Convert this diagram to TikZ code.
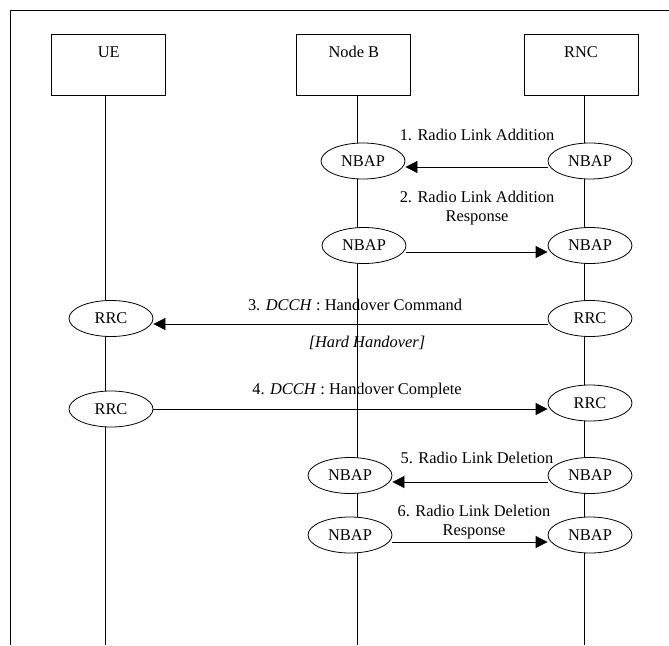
\documentclass[tikz,border=0pt]{standalone}
\usepackage{fontspec}
\setmainfont{Liberation Serif}
\usepackage{tikz}
\usetikzlibrary{shapes.geometric,arrows.meta}
\tikzstyle{entity}=[rectangle,draw=black,line width=0.8pt,inner sep=0pt,
                    minimum width=114pt,text height=23.5pt,text depth=37.5pt]
\tikzstyle{proto}=[ellipse,draw=black,fill=white,line width=0.8pt,
                   inner sep=0pt,minimum width=84pt,minimum height=36pt]
\tikzstyle{msg}=[line width=0.8pt,-{Triangle[length=12pt,width=12pt]}]
\tikzstyle{msglabel}=[anchor=base,align=center,inner sep=0pt]

\begin{document}
\begin{tikzpicture}[x=1pt,y=-1pt,line width=0.8pt,
    every node/.style={font=\fontsize{16.4}{19}\selectfont}]
    \useasboundingbox (0,0) rectangle (669,645);
    % frame
    \draw (10,645) -- (10,10.7) -- (669,10.7);
    % entities and lifelines
    \node (ue)  at (108.7,64.5) [entity]{UE};
    \node (nb)  at (353.8,64.5) [entity]{Node B};
    \node (rnc) at (581.0,64.5) [entity]{RNC};
    \coordinate (ueTop)  at (105.7,95);
    \coordinate (nbTop)  at (357.0,95);
    \coordinate (rncTop) at (584.0,95);
    \coordinate (ueBot)  at (105.7,645);
    \coordinate (nbBot)  at (357.0,645);
    \coordinate (rncBot) at (584.0,645);
    \draw (ueTop) -- (ueBot);
    \draw (nbTop) -- (nbBot);
    \draw (rncTop) -- (rncBot);
    % protocol ellipses
    \node (nb1) at (363,161)   [proto]{NBAP};
    \node (rn1) at (590,161)   [proto]{NBAP};
    \node (nb2) at (364,245.5) [proto]{NBAP};
    \node (rn2) at (590,245.5) [proto]{NBAP};
    \node (ue3) at (111,318.5) [proto]{RRC};
    \node (rn3) at (590,318.5) [proto]{RRC};
    \node (ue4) at (111,409)   [proto]{RRC};
    \node (rn4) at (590,403)   [proto]{RRC};
    \node (nb5) at (350,475.5) [proto]{NBAP};
    \node (rn5) at (590,475.5) [proto]{NBAP};
    \node (nb6) at (350,535)   [proto]{NBAP};
    \node (rn6) at (590,535)   [proto]{NBAP};
    % messages
    \draw[msg] ([yshift=-6pt]rn1.west) -- ([yshift=-6pt]rn1.west -| nb1.east);
    \draw[msg] ([yshift=-6.5pt]nb2.east) -- ([yshift=-6.5pt]nb2.east -| rn2.west);
    \draw[msg] ([yshift=-5.5pt]rn3.west) -- ([yshift=-5.5pt]rn3.west -| ue3.east);
    \draw[msg] (ue4.east) -- (ue4.east -| rn4.west);
    \draw[msg] ([yshift=-6.5pt]rn5.west) -- ([yshift=-6.5pt]rn5.west -| nb5.east);
    \draw[msg] ([yshift=-7pt]nb6.east) -- ([yshift=-7pt]nb6.east -| rn6.west);
    % labels
    \node (m1)  at (477,140.5) [msglabel]{1. Radio Link Addition};
    \node (m2)  at (477,221.5) [msglabel]{2. Radio Link Addition\\Response};
    \node (m3)  at (355,310.5) [msglabel]{3. \textit{DCCH} : Handover Command};
    \node (m3b) at (367,347.5) [msglabel]{\textit{[Hard Handover]}};
    \node (m4)  at (357,394.5) [msglabel]{4. \textit{DCCH} : Handover Complete};
    \node (m5)  at (477,463.5) [msglabel]{5. Radio Link Deletion};
    \node (m6)  at (474,535.5) [msglabel]{6. Radio Link Deletion\\Response};
\end{tikzpicture}
\end{document}
